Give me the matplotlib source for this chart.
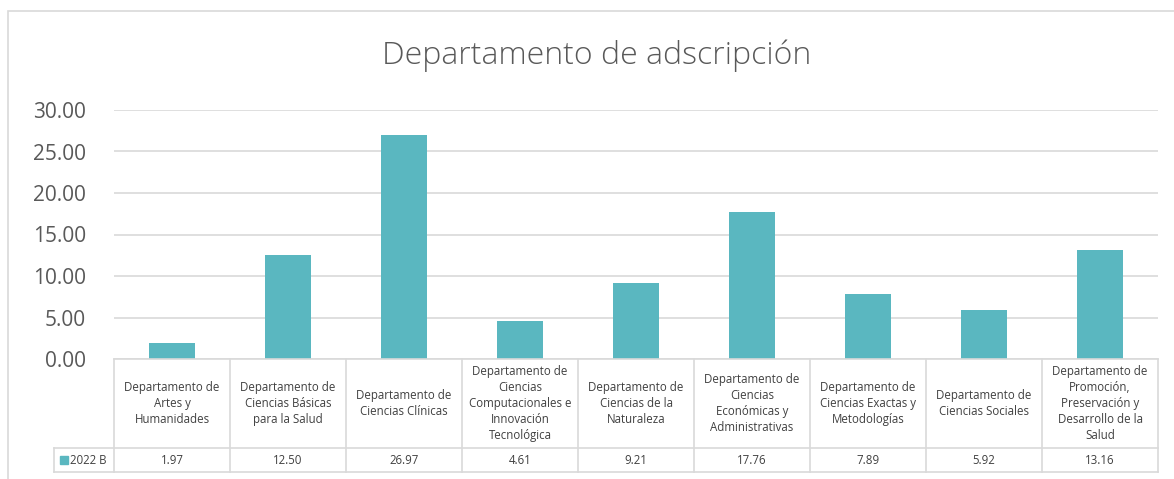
import matplotlib.pyplot as plt
from matplotlib.patches import Rectangle
from matplotlib.lines import Line2D

departamentos = [
    "Departamento de\nArtes y\nHumanidades",
    "Departamento de\nCiencias Básicas\npara la Salud",
    "Departamento de\nCiencias Clínicas",
    "Departamento de\nCiencias\nComputacionales e\nInnovación\nTecnológica",
    "Departamento de\nCiencias de la\nNaturaleza",
    "Departamento de\nCiencias\nEconómicas y\nAdministrativas",
    "Departamento de\nCiencias Exactas y\nMetodologías",
    "Departamento de\nCiencias Sociales",
    "Departamento de\nPromoción,\nPreservación y\nDesarrollo de la\nSalud",
]
valores_2022b = [1.97, 12.50, 26.97, 4.61, 9.21, 17.76, 7.89, 5.92, 13.16]
serie = "2022 B"
y_ticks = [0, 5, 10, 15, 20, 25, 30]

W, H = 1174, 479
plt.rcParams['font.family'] = ['Open Sans', 'DejaVu Sans']
fig = plt.figure(figsize=(W / 100, H / 100), dpi=100)

def fx(px):
    return px / W

def fy(py):
    return 1 - py / H

bar_col = "#5AB7C0"
grid_col = "#D9D9D9"
txt_col = "#595959"
tab_col = "#404040"

left, right, top, base = 114, 1158, 110, 359
ax = fig.add_axes([fx(left), fy(base), fx(right - left), (base - top) / H])
n = len(valores_2022b)
ax.bar(range(n), valores_2022b, width=0.4, color=bar_col, zorder=3)
ax.set_xlim(-0.5, n - 0.5)
ax.set_ylim(0, 30)
ax.set_yticks(y_ticks)
ax.set_yticklabels([f"{v:.2f}" for v in y_ticks], fontsize=15, color=txt_col)
ax.tick_params(axis='y', length=0, pad=20)
ax.set_xticks([])
ax.grid(axis='y', color=grid_col, linewidth=1.2, zorder=0)
for s in ax.spines.values():
    s.set_visible(False)

fig.text(0.508, fy(56), "Departamento de adscripción", ha='center', va='center',
         fontsize=23, color=txt_col, fontweight='light')

# outer chart frame
fig.patches.append(Rectangle((fx(8), fy(500)), fx(1200), fy(11) - fy(500),
                             transform=fig.transFigure, fill=False,
                             edgecolor=grid_col, linewidth=1.2))

# data table
row_mid, row_bot, key_left = 448, 472, 54
col_w = (right - left) / n
tl = dict(color=grid_col, linewidth=1.2, transform=fig.transFigure)
fig.add_artist(Line2D([fx(left), fx(right)], [fy(base), fy(base)], **tl))
fig.add_artist(Line2D([fx(key_left), fx(right)], [fy(row_mid), fy(row_mid)], **tl))
fig.add_artist(Line2D([fx(key_left), fx(right)], [fy(row_bot), fy(row_bot)], **tl))
fig.add_artist(Line2D([fx(key_left), fx(key_left)], [fy(row_mid), fy(row_bot)], **tl))
for i in range(n + 1):
    x = left + i * col_w
    fig.add_artist(Line2D([fx(x), fx(x)], [fy(base), fy(row_bot)], **tl))

for i, (lab, v) in enumerate(zip(departamentos, valores_2022b)):
    cx = left + (i + 0.5) * col_w
    fig.text(fx(cx), fy((base + row_mid) / 2), lab, ha='center', va='center',
             fontsize=8.3, color=tab_col, linespacing=1.3)
    fig.text(fx(cx), fy((row_mid + row_bot) / 2), f"{v:.2f}", ha='center',
             va='center', fontsize=8.3, color=tab_col)

fig.patches.append(Rectangle((fx(60), fy(464)), fx(8), fy(456) - fy(464),
                             transform=fig.transFigure, color=bar_col))
fig.text(fx(70), fy(460), serie, ha='left', va='center', fontsize=8.3, color=tab_col)

fig.savefig("out.png", dpi=100)
